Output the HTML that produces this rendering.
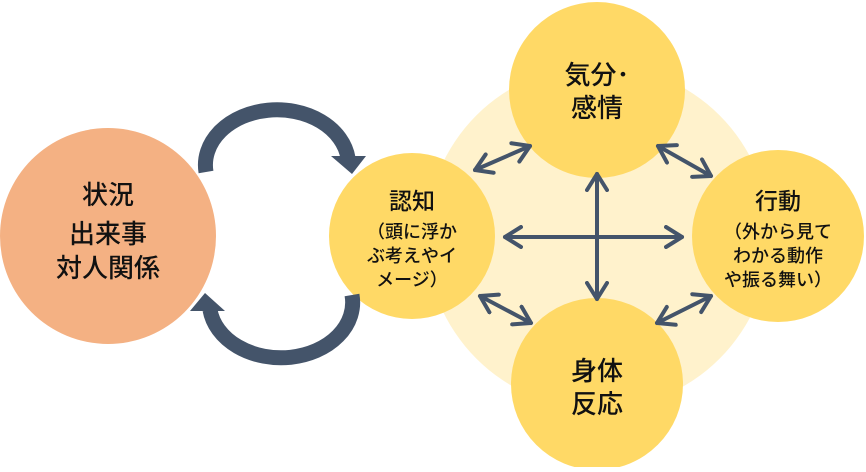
<!DOCTYPE html>
<html><head><meta charset="utf-8"><style>
html,body{margin:0;padding:0;background:#fff;}
body{width:866px;height:467px;overflow:hidden;}
text{font-family:"Liberation Sans","Noto Sans CJK JP",sans-serif;fill:#111;text-anchor:middle;}
</style></head><body>
<svg width="866" height="467" viewBox="0 0 866 467" xmlns="http://www.w3.org/2000/svg">
<defs>
<marker id="ah" markerWidth="6" markerHeight="6" refX="4.5" refY="3" orient="auto-start-reverse" markerUnits="strokeWidth">
<path d="M0.5,0.5 L4.5,3 L0.5,5.5" fill="none" stroke="#44546A" stroke-width="1" stroke-linecap="round" stroke-linejoin="round"/>
</marker>
</defs>
<circle cx="598" cy="237" r="172" fill="#FFF2CC"/>
<circle cx="108" cy="236" r="108" fill="#F4B183"/>
<circle cx="597" cy="90" r="88" fill="#FFD966"/>
<circle cx="597" cy="384" r="86" fill="#FFD966"/>
<circle cx="412" cy="236" r="83" fill="#FFD966"/>
<circle cx="778" cy="236" r="86" fill="#FFD966"/>
<path d="M206,172 A70,54 0 0 1 348,158" fill="none" stroke="#44546A" stroke-width="15"/>
<path d="M331,156 L366,156 L352,174 Z" fill="#44546A"/>
<path d="M352,295 A70,54 0 0 1 210,310" fill="none" stroke="#44546A" stroke-width="15"/>
<path d="M190,311 L225,311 L205,293 Z" fill="#44546A"/>
<g stroke="#44546A" stroke-width="4" stroke-linecap="round" fill="none" marker-start="url(#ah)" marker-end="url(#ah)">
<line x1="505" y1="237" x2="682" y2="237"/>
<line x1="597" y1="174" x2="597" y2="299"/>
<line x1="475" y1="170" x2="530" y2="146"/>
<line x1="658" y1="146" x2="711" y2="176"/>
<line x1="480" y1="296" x2="531" y2="323"/>
<line x1="657" y1="323" x2="711" y2="296"/>
</g>
<g font-size="26" font-weight="500">
<text x="108" y="204">状況</text>
<text x="108" y="243">出来事</text>
<text x="108" y="277">対人関係</text>
<text x="597" y="84">気分･</text>
<text x="597" y="117">感情</text>
<text x="597" y="380">身体</text>
<text x="597" y="413">反応</text>
</g>
<g font-size="23" font-weight="500">
<text x="412" y="209">認知</text>
<text x="778" y="209">行動</text>
</g>
<g font-size="18" font-weight="500">
<text x="412" y="238">（頭に浮か</text>
<text x="412" y="262">ぶ考えやイ</text>
<text x="412" y="286">メージ）</text>
<text x="778" y="238">（外から見て</text>
<text x="778" y="262">わかる動作</text>
<text x="778" y="286">や振る舞い）</text>
</g>
</svg>
</body></html>
